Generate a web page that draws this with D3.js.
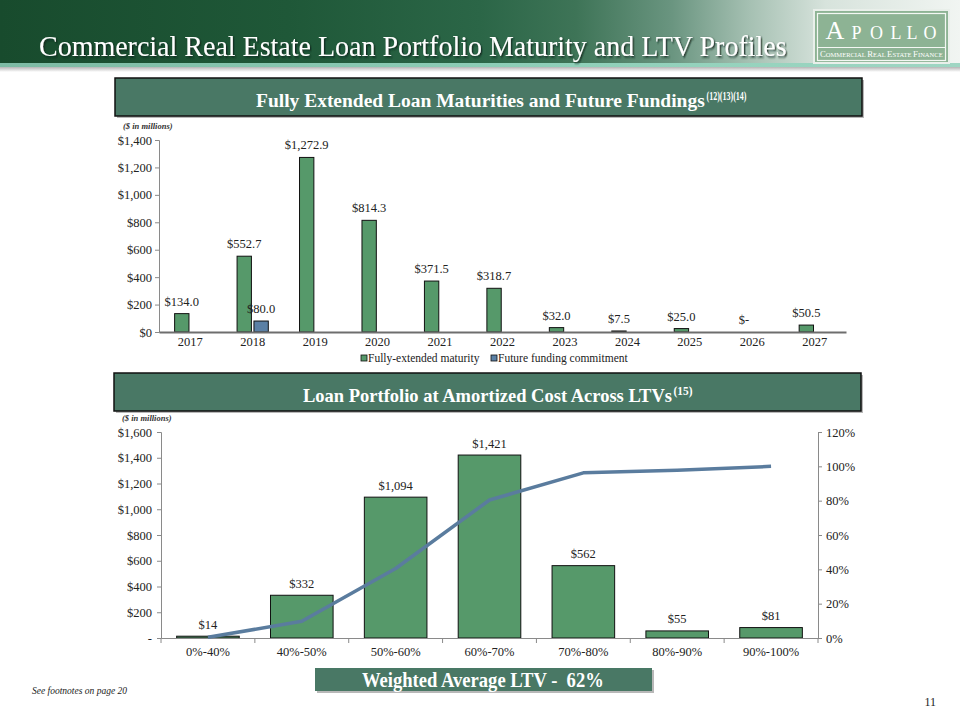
<!DOCTYPE html>
<html>
<head>
<meta charset="utf-8">
<script src="https://cdn.jsdelivr.net/npm/d3@7"></script>
<style>
  html, body { margin: 0; padding: 0; background: #fff; }
  svg { display: block; }
  text { font-family: "Liberation Serif", "Times New Roman", serif; }
</style>
</head>
<body>
<svg id="chart" width="960" height="720"></svg>
<script>
// ---------- DATA ----------
const years = ["2017","2018","2019","2020","2021","2022","2023","2024","2025","2026","2027"];
const maturityValues = [134.0, 552.7, 1272.9, 814.3, 371.5, 318.7, 32.0, 7.5, 25.0, 0, 50.5];
const fundingValues  = [null, 80.0, null, null, null, null, null, null, null, null, null];
const topYTicks = [0, 200, 400, 600, 800, 1000, 1200, 1400];
const seriesNames = ["Fully-extended maturity", "Future funding commitment"];

const ltvBuckets = ["0%-40%","40%-50%","50%-60%","60%-70%","70%-80%","80%-90%","90%-100%"];
const ltvAmounts = [14, 332, 1094, 1421, 562, 55, 81];
const ltvCumulative = [0.004, 0.097, 0.405, 0.804, 0.962, 0.977, 1.0];
const botYTicks = [0, 200, 400, 600, 800, 1000, 1200, 1400, 1600];
const botRTicks = [0, 0.2, 0.4, 0.6, 0.8, 1.0, 1.2];

// ---------- STYLE ----------
const GREEN = "#56996a";
const BLUE = "#5b80a5";
const LINE = "#5a7c9e";
const BOX = "#497865";
const AXIS = "#8a8a8a";
const serif = "'Liberation Serif','Times New Roman',serif";

const svg = d3.select("#chart");
const defs = svg.append("defs");

// text squeezed horizontally to an exact width via a scale transform
function fitText(parent, x, y, width, attrs, build) {
  const g = parent.append("g");
  const t = g.append("text").attr("x",0).attr("y",0);
  Object.entries(attrs).forEach(([k,v]) => t.attr(k,v));
  build(t);
  const len = t.node().getComputedTextLength();
  g.attr("transform", `translate(${x},${y}) scale(${width/len},1)`);
  return g;
}

// header gradient
const hg = defs.append("linearGradient").attr("id","hdr").attr("x1","0").attr("x2","1").attr("y1","0").attr("y2","0");
[[0,"#184b2d"],[0.3,"#1f5838"],[0.5,"#2b6647"],[0.6,"#3e7457"],[0.7,"#6a9580"],[0.78,"#a5c0b2"],[0.86,"#d7e3dc"],[1,"#f1f5f2"]]
  .forEach(([o,c]) => hg.append("stop").attr("offset", o).attr("stop-color", c));
const sg = defs.append("linearGradient").attr("id","shd").attr("x1","0").attr("x2","0").attr("y1","0").attr("y2","1");
sg.append("stop").attr("offset",0).attr("stop-color","#b5b5b5");
sg.append("stop").attr("offset",1).attr("stop-color","#ffffff");
const tg = defs.append("linearGradient").attr("id","teal").attr("x1","0").attr("x2","1");
tg.append("stop").attr("offset",0).attr("stop-color","#7dbba4");
tg.append("stop").attr("offset",0.6).attr("stop-color","#8fd0b9");
tg.append("stop").attr("offset",1).attr("stop-color","#9fd6c3");

const f = defs.append("filter").attr("id","tshadow").attr("x","-5%").attr("y","-20%").attr("width","110%").attr("height","150%");
f.append("feDropShadow").attr("dx",1.5).attr("dy",1.5).attr("stdDeviation",0.8).attr("flood-color","#0a2414").attr("flood-opacity",0.8);

// ---------- HEADER ----------
svg.append("rect").attr("x",0).attr("y",0).attr("width",960).attr("height",63).attr("fill","url(#hdr)");
svg.append("rect").attr("x",0).attr("y",63).attr("width",960).attr("height",4).attr("fill","url(#teal)");
svg.append("rect").attr("x",0).attr("y",67).attr("width",960).attr("height",5).attr("fill","url(#shd)");

fitText(svg, 39, 56, 748, {"font-size":30, "fill":"#fff", "filter":"url(#tshadow)"},
  t => t.text("Commercial Real Estate Loan Portfolio Maturity and LTV Profiles"));

// logo
const logo = svg.append("g");
logo.append("rect").attr("x",813).attr("y",9).attr("width",137).attr("height",55).attr("fill","#e9efea");
logo.append("rect").attr("x",815).attr("y",11).attr("width",133).attr("height",51).attr("fill","#8db394");
logo.append("rect").attr("x",817.5).attr("y",13.5).attr("width",128).attr("height",47).attr("fill","none").attr("stroke","#f3f7f3").attr("stroke-width",1.2);
logo.append("line").attr("x1",817.5).attr("x2",945.5).attr("y1",47.5).attr("y2",47.5).attr("stroke","#f3f7f3").attr("stroke-width",1.2);
[["A",835,26],["P",856.5,18],["O",876.5,18],["L",896,18],["L",912,18],["O",930,18]].forEach(([t,x,s]) => {
  logo.append("text").attr("x",x).attr("y",38.5).attr("fill","#fff").attr("text-anchor","middle").attr("font-size",s).text(t);
});
fitText(logo, 820, 57, 123, {"font-size":6, "fill":"#fff", "xml:space":"preserve"}, t => {
  [["C","OMMERCIAL "],["R","EAL "],["E","STATE "],["F","INANCE"]].forEach(([a,b]) => {
    t.append("tspan").attr("font-size",8).text(a);
    t.append("tspan").text(b);
  });
});

// ---------- SECTION BOX helper ----------
function sectionBox(x, y, w, h, main, sup, tx, mainLen, supLen) {
  svg.append("rect").attr("x",x+2).attr("y",y+2).attr("width",w).attr("height",h).attr("fill","#b8b8b8");
  svg.append("rect").attr("x",x).attr("y",y).attr("width",w).attr("height",h).attr("fill",BOX).attr("stroke","#111").attr("stroke-width",1.5);
  fitText(svg, tx, y+h-9, mainLen, {"fill":"#fff","font-weight":"bold","font-size":19}, t => t.text(main));
  fitText(svg, tx+mainLen+1.5, y+h-16, supLen, {"fill":"#fff","font-weight":"bold","font-size":13}, t => t.text(sup));
}
sectionBox(115, 78, 747, 38, "Fully Extended Loan Maturities and Future Fundings", "(12)(13)(14)", 256, 449, 40);
sectionBox(114, 373, 747, 38, "Loan Portfolio at Amortized Cost Across LTVs", "(15)", 303, 369, 19);

// ---------- TOP CHART ----------
const yT = d3.scaleLinear().domain([0,1400]).range([332,140]);
const x0 = d3.scaleBand().domain(years).range([159,846]).paddingInner(0.5).paddingOuter(0.25);
const x1 = d3.scaleBand().domain(["mat","fund"]).range([0, x0.bandwidth()]).paddingInner(0.15);

svg.append("text").attr("x",123).attr("y",129).attr("font-size",8.5).attr("font-style","italic").attr("font-weight","bold").attr("fill","#333").text("($ in millions)");

const yAxisT = svg.append("g").attr("transform","translate(159,0)")
  .call(d3.axisLeft(yT).tickValues(topYTicks).tickSize(4).tickFormat(v => "$" + d3.format(",")(v)));
yAxisT.select(".domain").attr("stroke",AXIS);
yAxisT.selectAll(".tick line").attr("stroke",AXIS);
yAxisT.selectAll(".tick text").attr("font-family",serif).attr("font-size",12.5).attr("fill","#222").attr("x",-7);

const topData = years.map((yr,i) => ({yr, mat: maturityValues[i], fund: fundingValues[i]}));
const gT = svg.append("g");
topData.forEach(d => {
  [["mat",GREEN],["fund",BLUE]].forEach(([k,c]) => {
    const v = d[k];
    if (v === null) return;
    const bx = x0(d.yr) + x1(k);
    if (v > 0) {
      gT.append("rect").attr("x",bx).attr("y",yT(v)).attr("width",x1.bandwidth()).attr("height",yT(0)-yT(v))
        .attr("fill",c).attr("stroke","#111").attr("stroke-width",1);
    }
    gT.append("text").attr("x",bx + x1.bandwidth()/2).attr("y",yT(v)-8).attr("text-anchor","middle")
      .attr("font-size",12.5).attr("fill","#222")
      .text(v === 0 ? "$-" : "$" + d3.format(",.1f")(v));
  });
});

const xAxisT = svg.append("g").attr("transform","translate(0,332)")
  .call(d3.axisBottom(x0).tickSize(0).tickPadding(5));
xAxisT.select(".domain").attr("stroke","#6e6e6e").attr("stroke-width",2);
xAxisT.selectAll(".tick text").attr("font-family",serif).attr("font-size",12.5).attr("fill","#222");

// legend
const leg = svg.append("g");
[[361, GREEN, seriesNames[0]],[491, BLUE, seriesNames[1]]].forEach(([lx,c,t]) => {
  leg.append("rect").attr("x",lx).attr("y",355).attr("width",6).attr("height",6).attr("fill",c).attr("stroke","#111").attr("stroke-width",0.8);
  leg.append("text").attr("x",lx+7).attr("y",362).attr("font-size",11.5).attr("fill","#222").text(t);
});

// ---------- BOTTOM CHART ----------
const yB = d3.scaleLinear().domain([0,1600]).range([638,432]);
const yR = d3.scaleLinear().domain([0,1.2]).range([638,432]);
const xB = d3.scaleBand().domain(ltvBuckets).range([161,818]).paddingInner(0.333).paddingOuter(0.1667);

svg.append("text").attr("x",122).attr("y",421).attr("font-size",8.5).attr("font-style","italic").attr("font-weight","bold").attr("fill","#333").text("($ in millions)");

const yAxisB = svg.append("g").attr("transform","translate(161,0)")
  .call(d3.axisLeft(yB).tickValues(botYTicks).tickSize(4).tickFormat(v => v === 0 ? "-" : "$" + d3.format(",")(v)));
yAxisB.select(".domain").attr("stroke",AXIS);
yAxisB.selectAll(".tick line").attr("stroke",AXIS);
yAxisB.selectAll(".tick text").attr("font-family",serif).attr("font-size",12.5).attr("fill","#222").attr("x",-9);

const yAxisR = svg.append("g").attr("transform","translate(818,0)")
  .call(d3.axisRight(yR).tickValues(botRTicks).tickSize(4).tickFormat(d3.format(".0%")));
yAxisR.select(".domain").attr("stroke",AXIS);
yAxisR.selectAll(".tick line").attr("stroke",AXIS);
yAxisR.selectAll(".tick text").attr("font-family",serif).attr("font-size",12.5).attr("fill","#222").attr("x",8);

const botData = ltvBuckets.map((b,i) => ({b, v: ltvAmounts[i], c: ltvCumulative[i]}));
const gB = svg.append("g");
gB.selectAll("rect").data(botData).join("rect")
  .attr("x", d => xB(d.b)).attr("y", d => yB(d.v)).attr("width", xB.bandwidth()).attr("height", d => yB(0)-yB(d.v))
  .attr("fill", GREEN).attr("stroke","#111").attr("stroke-width",1);
gB.selectAll("text").data(botData).join("text")
  .attr("x", d => xB(d.b) + xB.bandwidth()/2).attr("y", d => yB(d.v)-7.5).attr("text-anchor","middle")
  .attr("font-size",12.5).attr("fill","#222").text(d => "$" + d3.format(",")(d.v));

const xAxisB = svg.append("g").attr("transform","translate(0,638)")
  .call(d3.axisBottom(xB).tickSize(0).tickPadding(9));
xAxisB.select(".domain").attr("stroke",AXIS).attr("stroke-width",1.2);
xAxisB.selectAll(".tick text").attr("font-family",serif).attr("font-size",12.5).attr("fill","#222");
// boundary ticks
const bounds = ltvBuckets.map(b => xB(b) - xB.step()*xB.paddingInner()/2).concat([818]);
xAxisB.selectAll(".bt").data(bounds).join("line").attr("class","bt")
  .attr("x1", d => d).attr("x2", d => d).attr("y1",0).attr("y2",5).attr("stroke",AXIS);

const line = d3.line().x(d => xB(d.b) + xB.bandwidth()/2).y(d => yR(d.c));
svg.append("path").datum(botData).attr("d", line).attr("fill","none").attr("stroke",LINE).attr("stroke-width",3.5).attr("stroke-linejoin","round");

// ---------- WEIGHTED AVG BOX ----------
svg.append("rect").attr("x",317).attr("y",670).attr("width",337).attr("height",23).attr("fill","#b8b8b8");
svg.append("rect").attr("x",315).attr("y",668).attr("width",337).attr("height",23).attr("fill",BOX);
fitText(svg, 362, 686.5, 242, {"font-weight":"bold","font-size":20,"fill":"#fff","xml:space":"preserve"},
  t => t.text("Weighted Average LTV -  62%"));

// ---------- FOOTER ----------
svg.append("text").attr("x",32).attr("y",694).attr("font-size",9.5).attr("font-style","italic").attr("fill","#222").text("See footnotes on page 20");
svg.append("text").attr("x",936).attr("y",706).attr("text-anchor","end").attr("font-size",12).attr("fill","#222").text("11");
</script>
</body>
</html>
